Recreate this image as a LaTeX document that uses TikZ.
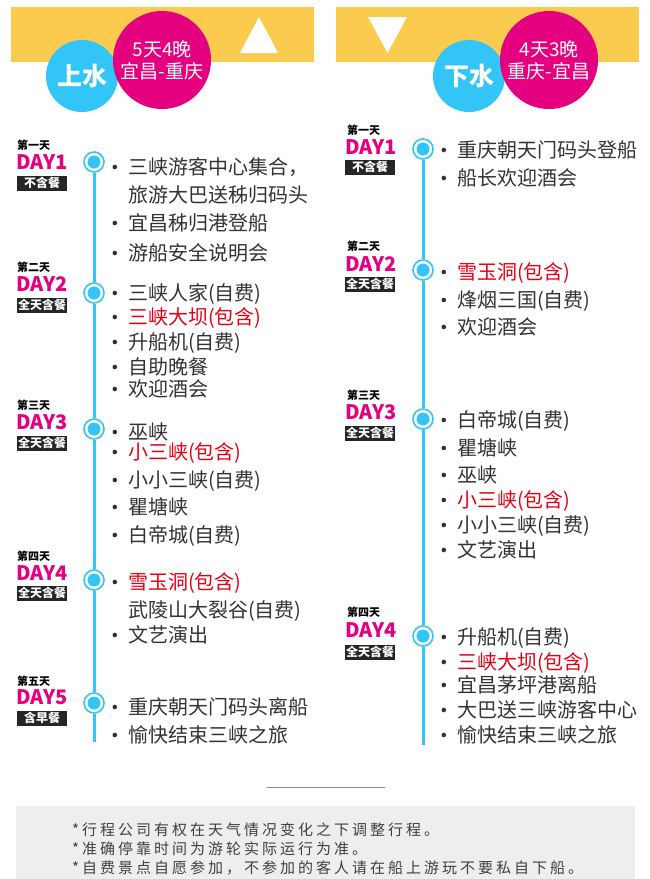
\documentclass[tikz,border=0pt]{standalone}
\usepackage{fontspec}
\setmainfont{Noto Sans CJK SC}
\newfontfamily\notefont[LetterSpace=20]{Noto Sans CJK SC}

\definecolor{bannery}{HTML}{FBCB4F}
\definecolor{tlblue}{HTML}{33C5F7}
\definecolor{daypink}{HTML}{E4007F}
\definecolor{incred}{HTML}{E60012}
\definecolor{txtgray}{HTML}{333333}
\definecolor{notebg}{HTML}{EEEEEE}

\tikzset{
  bigdot/.style={circle, inner sep=0pt, text=white, align=center},
  daydot/.style={circle, draw=tlblue, line width=1.6pt, fill=white, inner sep=0pt, minimum size=20pt,
    path picture={\fill[tlblue] (path picture bounding box.center) circle (6.5pt);}},
  tline/.style={tlblue, line width=3pt},
  dayname/.style={anchor=west, inner sep=0pt, text=daypink, font=\bfseries\fontsize{20}{20}\selectfont,
    text height=14.6pt, text depth=0pt},
  dayno/.style={anchor=west, inner sep=0pt, font=\bfseries\fontsize{11}{11}\selectfont,
    text height=9.7pt, text depth=1.3pt},
  meal/.style={fill=black!85, text=white, inner sep=0pt, minimum width=50pt, minimum height=15pt,
    font=\bfseries\fontsize{12}{12}\selectfont},
  item/.style={anchor=west, inner sep=0pt, text=txtgray, font=\fontsize{20}{20}\selectfont,
    text height=17.6pt, text depth=2.4pt},
  bdot/.style={circle, fill=txtgray, inner sep=0pt, minimum size=4.6pt},
  bitem/.style={item, label={[bdot, label distance=10.7pt]left:{}}},
  note/.style={anchor=west, inner sep=0pt, text=black!75, font=\notefont\fontsize{15}{15}\selectfont,
    text height=13.2pt, text depth=1.8pt}
}

\begin{document}
\begin{tikzpicture}[x=1pt, y=-1pt]
  \useasboundingbox (0,0) rectangle (650,879);
  \fill[white] (0,0) rectangle (650,879);

  % Headers
  \fill[bannery] (11,7) rectangle (314,62);
  \fill[bannery] (336,7) rectangle (639,62);
  \fill[white] (240,53) -- (278,53) -- (259,17) -- cycle;
  \fill[white] (368,17) -- (407,17) -- (387.5,53) -- cycle;

  \node[bigdot, fill=tlblue, minimum size=72pt, font=\bfseries\fontsize{25}{25}\selectfont] (upc) at (82,76) {上水};
  \node[bigdot, fill=daypink, minimum size=98pt, font=\fontsize{19}{22}\selectfont] (upr) at (162,60) {5天4晚\\宜昌-重庆};
  \node[bigdot, fill=tlblue, minimum size=72pt, font=\bfseries\fontsize{25}{25}\selectfont] (downc) at (469,76) {下水};
  \node[bigdot, fill=daypink, minimum size=98pt, font=\fontsize{19}{22}\selectfont] (downr) at (549,60) {4天3晚\\重庆-宜昌};

  % Upstream timeline
  \foreach \n/\y in {1/162, 2/293, 3/429, 4/580, 5/703}
    \node[daydot] (L\n) at (94,\y) {};
  \coordinate (Lend) at (94,742);
  \draw[tline] (L1) -- (L2) -- (L3) -- (L4) -- (L5) -- (Lend);

  \foreach \n/\a/\b/\c/\cn/\m in {1/145/162/183/一/不含餐, 2/267/284/305/二/全天含餐, 3/405/422/443/三/全天含餐,
      4/556/573/593/四/全天含餐, 5/681/697/718/五/含早餐} {
    \node[dayno] (ldn\n) at (17,\a) {第\cn 天};
    \node[dayname] (ld\n) at (16,\b) {DAY\n};
    \node[meal] (lm\n) at (42,\c) {\m};
  }

  \foreach \y/\t [count=\i] in {167/三峡游客中心集合，, 223/宜昌秭归港登船, 253/游船安全说明会,
      293/三峡人家(自费), 317/\textcolor{incred}{三峡大坝(包含)}, 342/升船机(自费), 367/自助晚餐, 389/欢迎酒会,
      432/巫峡, 452/\textcolor{incred}{小三峡(包含)}, 480/小小三峡(自费), 507/瞿塘峡, 535/白帝城(自费),
      582/\textcolor{incred}{雪玉洞(包含)}, 635/文艺演出, 707/重庆朝天门码头离船, 735/愉快结束三峡之旅}
    \node[bitem] (l\i) at (128,\y) {\t};
  \node[item] (lx1) at (128,195) {旅游大巴送秭归码头};
  \node[item] (lx2) at (128,610) {武陵山大裂谷(自费)};

  % Downstream timeline
  \foreach \n/\y in {1/149, 2/270, 3/419, 4/636}
    \node[daydot] (R\n) at (423,\y) {};
  \coordinate (Rend) at (423,745);
  \draw[tline] (R1) -- (R2) -- (R3) -- (R4) -- (Rend);

  \foreach \n/\a/\b/\c/\cn/\m in {1/130/147/167/一/不含餐, 2/246/264/284/二/全天含餐, 3/395/412/433/三/全天含餐,
      4/612/630/652/四/全天含餐} {
    \node[dayno] (rdn\n) at (347,\a) {第\cn 天};
    \node[dayname] (rd\n) at (345,\b) {DAY\n};
    \node[meal] (rm\n) at (370,\c) {\m};
  }

  \foreach \y/\t [count=\i] in {150/重庆朝天门码头登船, 178/船长欢迎酒会,
      272/\textcolor{incred}{雪玉洞(包含)}, 300/烽烟三国(自费), 327/欢迎酒会,
      420/白帝城(自费), 448/瞿塘峡, 475/巫峡, 500/\textcolor{incred}{小三峡(包含)}, 525/小小三峡(自费), 550/文艺演出,
      637/升船机(自费), 662/\textcolor{incred}{三峡大坝(包含)}, 685/宜昌茅坪港离船, 710/大巴送三峡游客中心, 735/愉快结束三峡之旅}
    \node[bitem] (r\i) at (457,\y) {\t};

  % Notes
  \draw[black!45, line width=1pt] (267,787) -- (385,787);
  \fill[notebg] (16,806) rectangle (635,879);
  \node[note] (n1) at (72,830) {*行程公司有权在天气情况变化之下调整行程。};
  \node[note] (n2) at (72,849) {*准确停靠时间为游轮实际运行为准。};
  \node[note] (n3) at (72,868) {*自费景点自愿参加，不参加的客人请在船上游玩不要私自下船。};
\end{tikzpicture}
\end{document}
